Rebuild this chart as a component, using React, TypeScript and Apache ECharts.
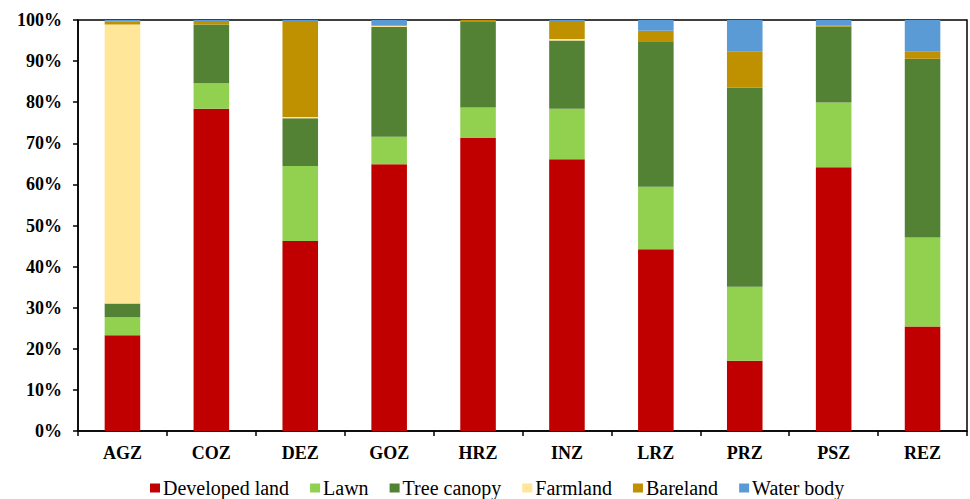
import React, { useEffect, useRef } from "react";
import * as echarts from "echarts";

const categories = ["AGZ", "COZ", "DEZ", "GOZ", "HRZ", "INZ", "LRZ", "PRZ", "PSZ", "REZ"];
const developedLand = [23.3, 78.4, 46.2, 64.9, 71.3, 66.1, 44.2, 17.1, 64.2, 25.4];
const lawn = [4.4, 6.2, 18.3, 6.7, 7.4, 12.3, 15.2, 18.0, 15.7, 21.7];
const treeCanopy = [3.3, 14.3, 11.6, 26.7, 21.0, 16.6, 35.4, 48.4, 18.5, 43.5];
const farmland = [67.9, 0, 0.3, 0.3, 0, 0.4, 0, 0, 0, 0];
const bareland = [0.7, 0.6, 23.1, 0, 0.3, 4.1, 2.6, 8.8, 0.3, 1.7];
const waterBody = [0.4, 0.5, 0.5, 1.4, 0, 0.5, 2.6, 7.7, 1.3, 7.7];
const yTicks = [0, 10, 20, 30, 40, 50, 60, 70, 80, 90, 100];

const seriesDefs = [
  { name: "Developed land", data: developedLand, color: "#C00000" },
  { name: "Lawn", data: lawn, color: "#92D050" },
  { name: "Tree canopy", data: treeCanopy, color: "#548235" },
  { name: "Farmland", data: farmland, color: "#FFE699" },
  { name: "Bareland", data: bareland, color: "#BF9000" },
  { name: "Water body", data: waterBody, color: "#5B9BD5" },
];

const FONT = "Liberation Serif, DejaVu Serif, serif";

export default function App() {
  const ref = useRef<HTMLDivElement>(null);
  useEffect(() => {
    if (!ref.current) return;
    const chart = echarts.init(ref.current, null, { renderer: "svg" });
    chart.setOption({
      animation: false,
      backgroundColor: "#ffffff",
      textStyle: { fontFamily: FONT },
      grid: {
        left: 78,
        right: 3,
        top: 20,
        bottom: 68,
        show: true,
        borderColor: "#000",
        borderWidth: 1.5,
        containLabel: false,
      },
      legend: {
        data: seriesDefs.map((s) => s.name),
        left: 150,
        top: 478,
        padding: 0,
        itemWidth: 10,
        itemHeight: 9,
        itemGap: 21,
        icon: "rect",
        textStyle: { fontFamily: FONT, fontSize: 20, lineHeight: 18, color: "#000", padding: [0, 0, 0, -2] },
      },
      xAxis: {
        type: "category",
        data: categories,
        axisLine: { lineStyle: { color: "#000", width: 1.5 } },
        axisTick: { show: true, length: 5, lineStyle: { color: "#000", width: 1.5 } },
        axisLabel: { fontFamily: FONT, fontSize: 18, fontWeight: "bold", color: "#000", margin: 13 },
      },
      yAxis: {
        type: "value",
        min: 0,
        max: 100,
        interval: 10,
        splitLine: { show: false },
        axisLine: { show: true, lineStyle: { color: "#000", width: 1.5 } },
        axisTick: { show: true, length: 5, lineStyle: { color: "#000", width: 1.5 } },
        axisLabel: {
          fontFamily: FONT,
          fontSize: 18,
          fontWeight: "bold",
          color: "#000",
          margin: 16,
          formatter: (v: number) => (yTicks.includes(v) ? `${v}%` : ""),
        },
      },
      series: seriesDefs.map((s) => ({
        name: s.name,
        type: "bar",
        stack: "total",
        barWidth: "40%",
        data: s.data,
        itemStyle: { color: s.color },
      })),
    });
    return () => chart.dispose();
  }, []);
  return <div ref={ref} style={{ width: 970, height: 499, position: "absolute", left: 0, top: 0 }} />;
}
